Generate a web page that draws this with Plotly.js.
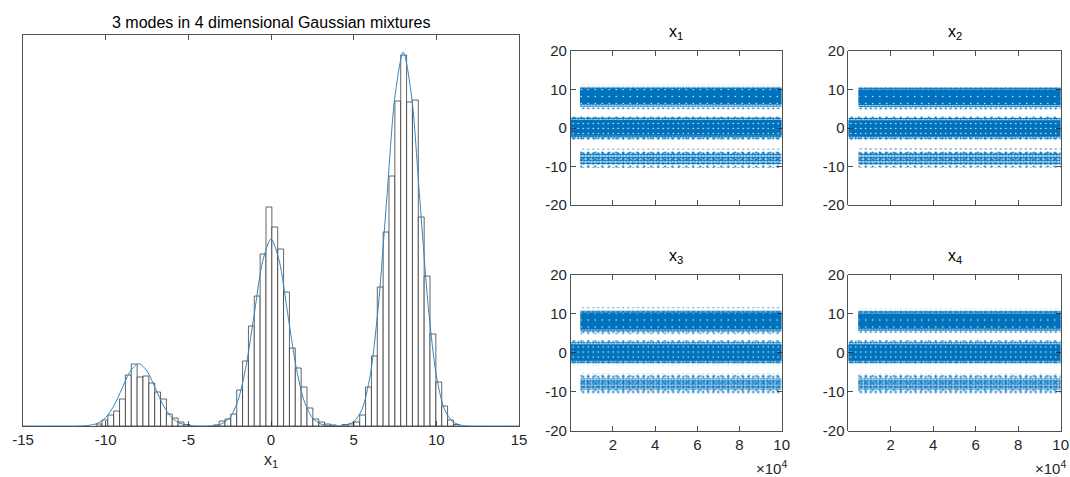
<!DOCTYPE html>
<html><head><meta charset="utf-8">
<script src="https://cdn.plot.ly/plotly-3.0.1.min.js"></script>
<style>html,body{margin:0;padding:0;background:#fff}#chart{width:1070px;height:477px}</style>
</head><body><div id="chart"></div>
<script>
// ---------- Histogram of x1 (left) ----------
const binCenters = [-10.400,-10.046,-9.691,-9.337,-8.983,-8.628,-8.274,-7.920,-7.566,-7.211,-6.857,-6.503,-6.148,-5.794,-5.440,-5.085,
  -3.314,-2.959,-2.605,-2.251,-1.897,-1.542,-1.188,-0.834,-0.479,-0.125,0.229,0.584,0.938,1.292,1.647,2.001,2.355,2.709,3.064,3.418,3.772,
  4.481,4.835,5.190,5.544,5.898,6.252,6.607,6.961,7.315,7.670,8.024,8.378,8.733,9.087,9.441,9.795,10.150,10.504,10.858,11.213];
const binCounts = [2,6,11,15,27,51,62,49,50,43,34,27,12,8,4,1.5,
  1,5,7,12,36,65,100,130,172,219,199,177,134,78,58,39,18,7,4,2,1,
  1.5,2,4,11,39,70,139,194,250,325,371,324,326,209,150,92,44,20,6,1.5];
const binWidth = 0.3543;
const curveX = [-15,-14,-13,-12,-11.5,-11,-10.5,-10,-9.5,-9,-8.5,-8,-7.5,-7,-6.5,-6,-5.5,-5,-4.5,-4,-3.5,-3,-2.5,-2,-1.5,-1,-0.5,0,0.5,1,1.5,2,2.5,3,3.5,4,4.5,5,5.5,6,6.5,7,7.5,8,8.5,9,9.5,10,10.5,11,11.5,12,13,14,15];
const curveY = [0,0,0,0.02,0.14,0.7,2.7,8.4,20.2,37.8,55.0,62.3,55.0,37.8,20.2,8.4,2.7,0.7,0.15,0.08,0.41,2.1,8.2,25.3,60.7,113.4,165.0,187,165.0,113.4,60.7,25.3,8.2,2.1,0.43,0.19,0.83,4.2,16.4,50.6,121.4,226.8,330.1,374,330.1,226.8,121.4,50.6,16.4,4.2,0.82,0.13,0,0,0];
const histTicks = [-15,-10,-5,0,5,10,15];
const histTickText = ['-15','-10','-5','0','5','10','15'];
const histTitle = '3 modes in 4 dimensional Gaussian mixtures';
const histXLabel = 'x<sub>1</sub>';

// ---------- Trace panels (right) ----------
const panelTitles = ['x<sub>1</sub>','x<sub>2</sub>','x<sub>3</sub>','x<sub>4</sub>'];
const iterTicks = [20000,40000,60000,80000,100000];
const iterTickText = ['2','4','6','8','10'];
const valueTicks = [-20,-10,0,10,20];
const valueTickText = ['-20','-10','0','10','20'];
const iterEnd = 100000;
const sideStart = [4400,4800,4600,4700];        // iteration where the +8 / -8 bands begin
const upperCore   = [[6.1,10.1],[6.0,10.0],[6.0,10.2],[6.1,10.0]];
const upperShell  = [[5.5,10.7],[5.4,10.6],[5.3,10.8],[5.5,10.7]];
const upperFringe = [[4.9,11.3],[4.8,11.2],[4.7,11.6],[5.0,11.4]];
const middleCore   = [[-2.0,2.1],[-2.1,2.0],[-2.1,2.1],[-2.1,2.1]];
const middleShell  = [[-2.6,2.7],[-2.7,2.6],[-2.7,2.7],[-2.7,2.7]];
const middleFringe = [[-3.2,3.3],[-3.3,3.2],[-3.4,3.2],[-3.3,3.3]];
const lowerCore   = [[-9.4,-6.6],[-9.5,-6.5],[-9.5,-6.6],[-9.5,-6.6]];
const lowerFringe = [[-10.4,-5.4],[-10.3,-5.3],[-10.6,-5.2],[-10.8,-5.3]];

const BLUE = '#0072BD';
const FONT = 'Liberation Sans, Arial, Helvetica, sans-serif';
const AX = '#262626';

const traces = [];
traces.push({type:'bar', x:binCenters, y:binCounts, width:binWidth,
  marker:{color:'rgba(255,255,255,1)', line:{color:'#222', width:0.7}},
  xaxis:'x', yaxis:'y', hoverinfo:'skip', showlegend:false});
traces.push({type:'scatter', mode:'lines', x:curveX, y:curveY,
  line:{color:'#2f86c4', width:1, shape:'spline', smoothing:0.8},
  xaxis:'x', yaxis:'y', hoverinfo:'skip', showlegend:false});

function band(ax, x0, x1, r, pat) {
  return {type:'scatter', mode:'none', x:[x0,x1,x1,x0,x0], y:[r[0],r[0],r[1],r[1],r[0]],
    fill:'toself', fillcolor:'rgba(0,0,0,0)', fillpattern:pat,
    xaxis:'x'+ax, yaxis:'y'+ax, hoverinfo:'skip', showlegend:false};
}
const dots = (size, s) => ({shape:'.', fgcolor:BLUE, bgcolor:'rgba(0,0,0,0)', size:size, solidity:s});
const specks = (size, s) => ({shape:'.', fgcolor:'#ffffff', bgcolor:BLUE, size:size, solidity:s});

for (let p = 0; p < 4; p++) {
  const ax = p + 2, s0 = sideStart[p];
  traces.push(band(ax, s0, iterEnd, upperFringe[p], dots(5, 0.14)));
  traces.push(band(ax, s0, iterEnd, upperFringe[p], dots(7, 0.07)));
  traces.push(band(ax, s0, iterEnd, upperShell[p], dots(3, 0.6)));
  traces.push(band(ax, s0, iterEnd, upperCore[p], specks(7, 0.03)));
  traces.push(band(ax, 0, iterEnd, middleFringe[p], dots(5, 0.13)));
  traces.push(band(ax, 0, iterEnd, middleFringe[p], dots(7, 0.07)));
  traces.push(band(ax, 0, iterEnd, middleShell[p], dots(3, 0.55)));
  traces.push(band(ax, 0, iterEnd, middleCore[p], specks(5, 0.06)));
  traces.push(band(ax, s0, iterEnd, lowerFringe[p], dots(5, 0.16)));
  traces.push(band(ax, s0, iterEnd, lowerFringe[p], dots(7, 0.08)));
  traces.push(band(ax, s0, iterEnd, lowerCore[p], dots(3, 0.6)));
}

const W = 1070, H = 477;
const px = v => v / W, py = v => 1 - v / H;

const baseAxis = {showline:true, linecolor:AX, linewidth:0.8, mirror:'ticks', ticks:'inside', ticklen:5,
  tickcolor:AX, tickwidth:0.8, showgrid:false, zeroline:false, fixedrange:true,
  tickfont:{family:FONT, size:15, color:AX}};

const layout = {
  width:W, height:H, margin:{l:0, r:0, t:0, b:0}, paper_bgcolor:'#fff', plot_bgcolor:'#fff',
  bargap:0, showlegend:false, font:{family:FONT, color:AX},
  xaxis: Object.assign({}, baseAxis, {domain:[px(23), px(519)], range:[-15,15], tickvals:histTicks, ticktext:histTickText,
    title:{text:histXLabel, font:{family:FONT, size:16, color:AX}, standoff:6}, anchor:'y'}),
  yaxis: Object.assign({}, baseAxis, {domain:[py(426), py(35)], range:[0,391], showticklabels:false, ticks:'', mirror:true, anchor:'x'}),
  annotations: []
};
const cols = [[570.7,781.7],[848.3,1060.7]];
const rows = [[51,205],[274.5,430.7]];
for (let p = 0; p < 4; p++) {
  const c = cols[p % 2], r = rows[Math.floor(p / 2)], ax = p + 2;
  layout['xaxis'+ax] = Object.assign({}, baseAxis, {domain:[px(c[0]), px(c[1])], range:[0, iterEnd],
    tickvals:iterTicks, ticktext:iterTickText, showticklabels: p >= 2, anchor:'y'+ax});
  layout['yaxis'+ax] = Object.assign({}, baseAxis, {domain:[py(r[1]), py(r[0])], range:[-20,20],
    tickvals:valueTicks, ticktext:valueTickText, anchor:'x'+ax});
  layout.annotations.push({xref:'paper', yref:'paper', x:px((c[0]+c[1])/2), y:py(r[0]-18), text:panelTitles[p],
    showarrow:false, xanchor:'center', yanchor:'middle', font:{family:FONT, size:16, color:'#000'}});
  if (p >= 2) {
    layout.annotations.push({xref:'paper', yref:'paper', x:px(c[1]+6), y:py(467), text:'\u00d710<sup>4</sup>',
      showarrow:false, xanchor:'right', yanchor:'middle', borderpad:0, font:{family:FONT, size:15, color:AX}});
  }
}
layout.annotations.push({xref:'paper', yref:'paper', x:px(271), y:py(22), text:histTitle, showarrow:false,
  xanchor:'center', yanchor:'middle', font:{family:FONT, size:16, color:'#000'}});

Plotly.newPlot('chart', traces, layout, {staticPlot:true, displayModeBar:false});
</script></body></html>
